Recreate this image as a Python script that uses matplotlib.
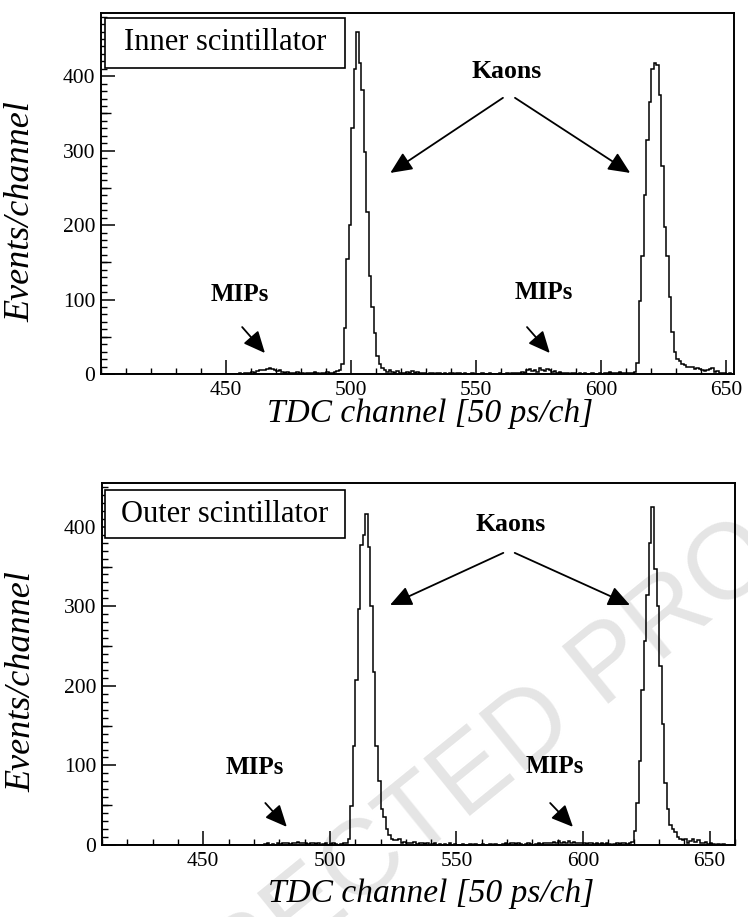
import numpy as np
import matplotlib
matplotlib.use("Agg")
import matplotlib.pyplot as plt
from matplotlib.ticker import MultipleLocator, FixedLocator
from matplotlib.patches import Rectangle

plt.rcParams['font.family'] = ['Liberation Serif', 'DejaVu Serif']

# ---------------- data (counts per TDC channel) ----------------
# Inner scintillator (x range 400-653)
inner_range = (400, 653)
inner_bg1_start = 455
inner_bg1 = [1, 0, 2, 1, 2, 3, 2, 4, 5, 6, 5, 7, 8, 7, 6, 4, 5, 3, 2, 3,
             1, 2, 1, 3, 1, 2, 0, 1, 2, 1, 3, 1, 0, 2, 1, 3, 2, 1, 3]
inner_peak1_start = 494
inner_peak1 = [4, 5, 14, 62, 155, 200, 330, 410, 460, 418, 382, 298, 218, 132,
               90, 55, 24, 13, 8, 5, 3, 6, 3, 2, 4, 2, 1]
inner_bg2_start = 521
inner_bg2 = [2, 3, 1, 4, 2, 3, 2, 1, 2, 0, 1, 1, 0, 2, 1, 0, 1, 0, 2, 1,
             0, 1, 2, 0, 1, 0, 0, 1, 0, 0, 0, 1, 0, 0, 1, 0, 0, 0, 1, 0,
             0, 1, 0, 2, 1, 2, 1, 3, 2, 5, 7, 4, 6, 3, 8, 5, 4, 7, 6, 3,
             4, 2, 3, 1, 2, 1, 0, 1, 1, 0, 2, 0, 1, 0, 0, 1, 0, 0, 1, 0,
             2, 1, 3, 1, 2, 1, 3, 2, 1, 2, 1, 2]
inner_peak2_start = 613
inner_peak2 = [3, 15, 98, 158, 240, 315, 365, 410, 418, 415, 375, 280, 198, 158,
               104, 57, 30, 20, 18, 14, 12, 10, 10, 9, 7, 8, 7, 6, 4, 5,
               7, 8, 3, 4, 2, 1, 2, 0, 1, 0]

# Outer scintillator (x range 410-660)
outer_range = (410, 660)
outer_bg1_start = 474
outer_bg1 = [1, 2, 0, 1, 0, 2, 1, 3, 2, 3, 1, 3, 2, 4, 3, 2, 3, 1, 2, 3,
             1, 2, 0, 1, 2, 0, 1, 2, 1, 0, 1, 2]
outer_peak1_start = 506
outer_peak1 = [3, 8, 49, 125, 207, 297, 377, 390, 416, 375, 300, 217, 125, 80,
               45, 35, 20, 12, 8, 6, 6, 8, 3, 4, 2]
outer_bg2_start = 531
outer_bg2 = [3, 2, 4, 1, 2, 3, 1, 2, 0, 1, 2, 0, 1, 0, 1, 0, 2, 0, 1, 0,
             0, 1, 0, 0, 1, 0, 1, 0, 0, 1, 0, 0, 1, 0, 1, 0, 0, 1, 2, 1,
             2, 2, 1, 2, 1, 0, 1, 2, 1, 0, 1, 2, 1, 2, 3, 2, 3, 4, 3, 5,
             3, 4, 3, 5, 2, 4, 3, 2, 3, 2, 1, 3, 2, 1, 2, 1, 3, 1, 2, 1,
             0, 1, 2, 1, 3, 2, 1, 3]
outer_peak2_start = 619
outer_peak2 = [4, 18, 53, 105, 195, 256, 314, 380, 425, 347, 300, 225, 152, 78,
               45, 25, 20, 16, 10, 8, 6, 8, 3, 5, 7, 4, 6, 3, 2, 4,
               1, 2, 1, 0, 1, 0, 1]

x_ticks = [450, 500, 550, 600, 650]
y_ticks = [0, 100, 200, 300, 400]


def build(rng, segments):
    edges = np.arange(rng[0], rng[1] + 1)
    counts = np.zeros(len(edges) - 1)
    for start, vals in segments:
        for i, v in enumerate(vals):
            ch = start + i
            if rng[0] <= ch < rng[1]:
                counts[ch - rng[0]] = v
    return edges, counts


inner_edges, inner_counts = build(inner_range, [
    (inner_bg1_start, inner_bg1), (inner_peak1_start, inner_peak1),
    (inner_bg2_start, inner_bg2), (inner_peak2_start, inner_peak2)])
outer_edges, outer_counts = build(outer_range, [
    (outer_bg1_start, outer_bg1), (outer_peak1_start, outer_peak1),
    (outer_bg2_start, outer_bg2), (outer_peak2_start, outer_peak2)])

# ---------------- figure ----------------
W, H = 748, 917
fig = plt.figure(figsize=(W / 100, H / 100), dpi=100)
fig.patch.set_facecolor('white')

# watermark (clipped by the page edge, as in the reference)
fig.text(458 / W, 1 - 790 / H, 'CORRECTED PROOF', rotation=39,
         ha='center', va='center', fontsize=77, color='#e5e5e5',
         family=['Liberation Sans', 'DejaVu Sans'], zorder=-1)

ax1 = fig.add_axes([101 / W, 1 - 374 / H, 633 / W, 361 / H])
ax2 = fig.add_axes([102 / W, 1 - 845 / H, 633 / W, 362 / H])

panels = [
    (ax1, inner_edges, inner_counts, inner_range, 485, 'Inner scintillator',
     dict(kaons=(0.641, 0.837), kl=((0.635, 0.765), (0.457, 0.557)),
          kr=((0.654, 0.765), (0.836, 0.557)),
          m1=(0.220, 0.219), m1a=((0.223, 0.130), (0.259, 0.058)),
          m2=(0.700, 0.225), m2a=((0.673, 0.130), (0.709, 0.058)),
          box=(0.006, 0.848, 0.379, 0.138), boxtxt=(0.196, 0.917),
          xlab=(0.52, -0.069))),
    (ax2, outer_edges, outer_counts, outer_range, 455, 'Outer scintillator',
     dict(kaons=(0.645, 0.884), kl=((0.634, 0.807), (0.455, 0.663)),
          kr=((0.652, 0.807), (0.834, 0.663)),
          m1=(0.242, 0.215), m1a=((0.258, 0.116), (0.292, 0.050)),
          m2=(0.716, 0.218), m2a=((0.708, 0.116), (0.744, 0.050)),
          box=(0.005, 0.848, 0.379, 0.133), boxtxt=(0.194, 0.914),
          xlab=(0.52, -0.092))),
]

for ax, edges, counts, rng, ymax, title, pos in panels:
    ax.set_facecolor('none')
    ax.stairs(counts, edges, color='black', lw=1.1, baseline=0)
    ax.set_xlim(rng[0], rng[1])
    ax.set_ylim(0, ymax)
    for s in ax.spines.values():
        s.set_linewidth(1.4)
    ax.xaxis.set_major_locator(FixedLocator(x_ticks))
    ax.xaxis.set_minor_locator(MultipleLocator(10))
    ax.yaxis.set_major_locator(FixedLocator(y_ticks))
    ax.yaxis.set_minor_locator(MultipleLocator(10))
    ax.tick_params(which='major', direction='in', length=10, width=1.1,
                   labelsize=15.5, top=False, right=False)
    ax.tick_params(which='minor', direction='in', length=4.5, width=1.0,
                   top=False, right=False)
    ax.tick_params(axis='x', which='major', pad=5)
    ax.tick_params(axis='y', which='major', pad=4)
    sec = ax.secondary_yaxis('left')
    sec.set_yticks([50, 150, 250, 350])
    sec.tick_params(direction='in', length=7, width=1.0, labelleft=False)
    sec.spines['left'].set_visible(False)

    ax.set_ylabel('Events/channel', fontstyle='italic', fontsize=26)
    ax.yaxis.set_label_coords(-0.10, 0.45)
    ax.set_xlabel('TDC channel [50 ps/ch]', fontstyle='italic', fontsize=24)
    ax.xaxis.set_label_coords(*pos['xlab'])

    bx, by, bw, bh = pos['box']
    ax.add_patch(Rectangle((bx, by), bw, bh, transform=ax.transAxes,
                           facecolor='white', edgecolor='black', lw=1.2,
                           zorder=5))
    ax.text(*pos['boxtxt'], title, transform=ax.transAxes, ha='center',
            va='center', fontsize=22, zorder=6)

    ax.text(*pos['kaons'], 'Kaons', transform=ax.transAxes, ha='center',
            va='center', fontsize=18.5, fontweight='bold')
    ax.text(*pos['m1'], 'MIPs', transform=ax.transAxes, ha='center',
            va='center', fontsize=18, fontweight='bold')
    ax.text(*pos['m2'], 'MIPs', transform=ax.transAxes, ha='center',
            va='center', fontsize=18, fontweight='bold')
    for key in ('kl', 'kr', 'm1a', 'm2a'):
        (x0, y0), (x1, y1) = pos[key]
        ax.annotate('', xy=(x1, y1), xytext=(x0, y0),
                    xycoords='axes fraction', textcoords='axes fraction',
                    arrowprops=dict(arrowstyle='-|>,head_length=1.1,head_width=0.5',
                                    color='black', lw=1.3, shrinkA=0, shrinkB=0,
                                    mutation_scale=12))

fig.savefig('out.png', dpi=100, facecolor='white')
